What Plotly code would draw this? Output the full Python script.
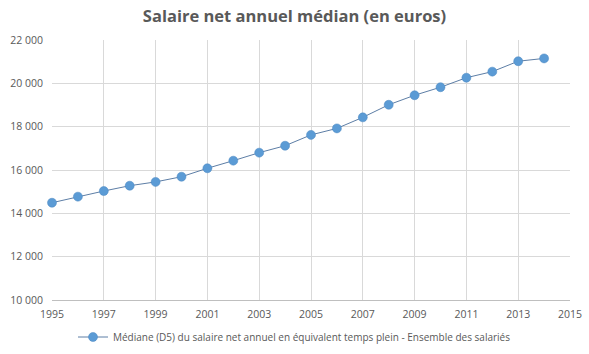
import plotly.graph_objects as go

years = list(range(1995, 2015))
values = [14490, 14770, 15030, 15275, 15450, 15690, 16080, 16430, 16800, 17120,
          17620, 17920, 18430, 19010, 19450, 19820, 20260, 20540, 21020, 21150]
series_name = "Médiane (D5) du salaire net annuel en équivalent temps plein - Ensemble des salariés"
title = "Salaire net annuel médian (en euros)"
y_ticks = [10000, 12000, 14000, 16000, 18000, 20000, 22000]
y_tick_labels = ["10 000", "12 000", "14 000", "16 000", "18 000", "20 000", "22 000"]
x_ticks = list(range(1995, 2016, 2))

fig = go.Figure()
fig.add_trace(go.Scatter(
    x=years, y=values, mode="lines+markers", name=series_name, cliponaxis=False,
    line=dict(color="#5d7ea6", width=1),
    marker=dict(color="#5b9bd5", size=9, line=dict(color="#4a86c0", width=0.5)),
))
fig.update_layout(
    width=589, height=354,
    margin=dict(l=52, r=19, t=40, b=54),
    paper_bgcolor="white", plot_bgcolor="white",
    title=dict(text="<b>" + title + "</b>", x=0.5, xanchor="center", xref="container",
               y=0.955, yanchor="middle",
               font=dict(family="Open Sans", size=16.5, color="#595959")),
    font=dict(family="Open Sans", color="#595959"),
    showlegend=True,
    legend=dict(orientation="h", x=0.5, xanchor="center", xref="container",
                y=1 - 337 / 354, yanchor="middle", yref="container",
                font=dict(size=10, color="#595959")),
    xaxis=dict(range=[1995, 2015], tickvals=x_ticks, showgrid=True, gridcolor="#d9d9d9",
               gridwidth=1, showline=True, linecolor="#bfbfbf", zeroline=False,
               tickfont=dict(size=10.5, color="#595959"), ticks="", ticklabelstandoff=4,
               automargin=False),
    yaxis=dict(range=[10000, 22000], tickvals=y_ticks, ticktext=y_tick_labels, showgrid=True,
               gridcolor="#d9d9d9", gridwidth=1, zeroline=False, showline=False,
               tickfont=dict(size=10.5, color="#595959"), ticks="", ticklabelstandoff=8,
               automargin=False),
)
fig.write_html("out.html")
